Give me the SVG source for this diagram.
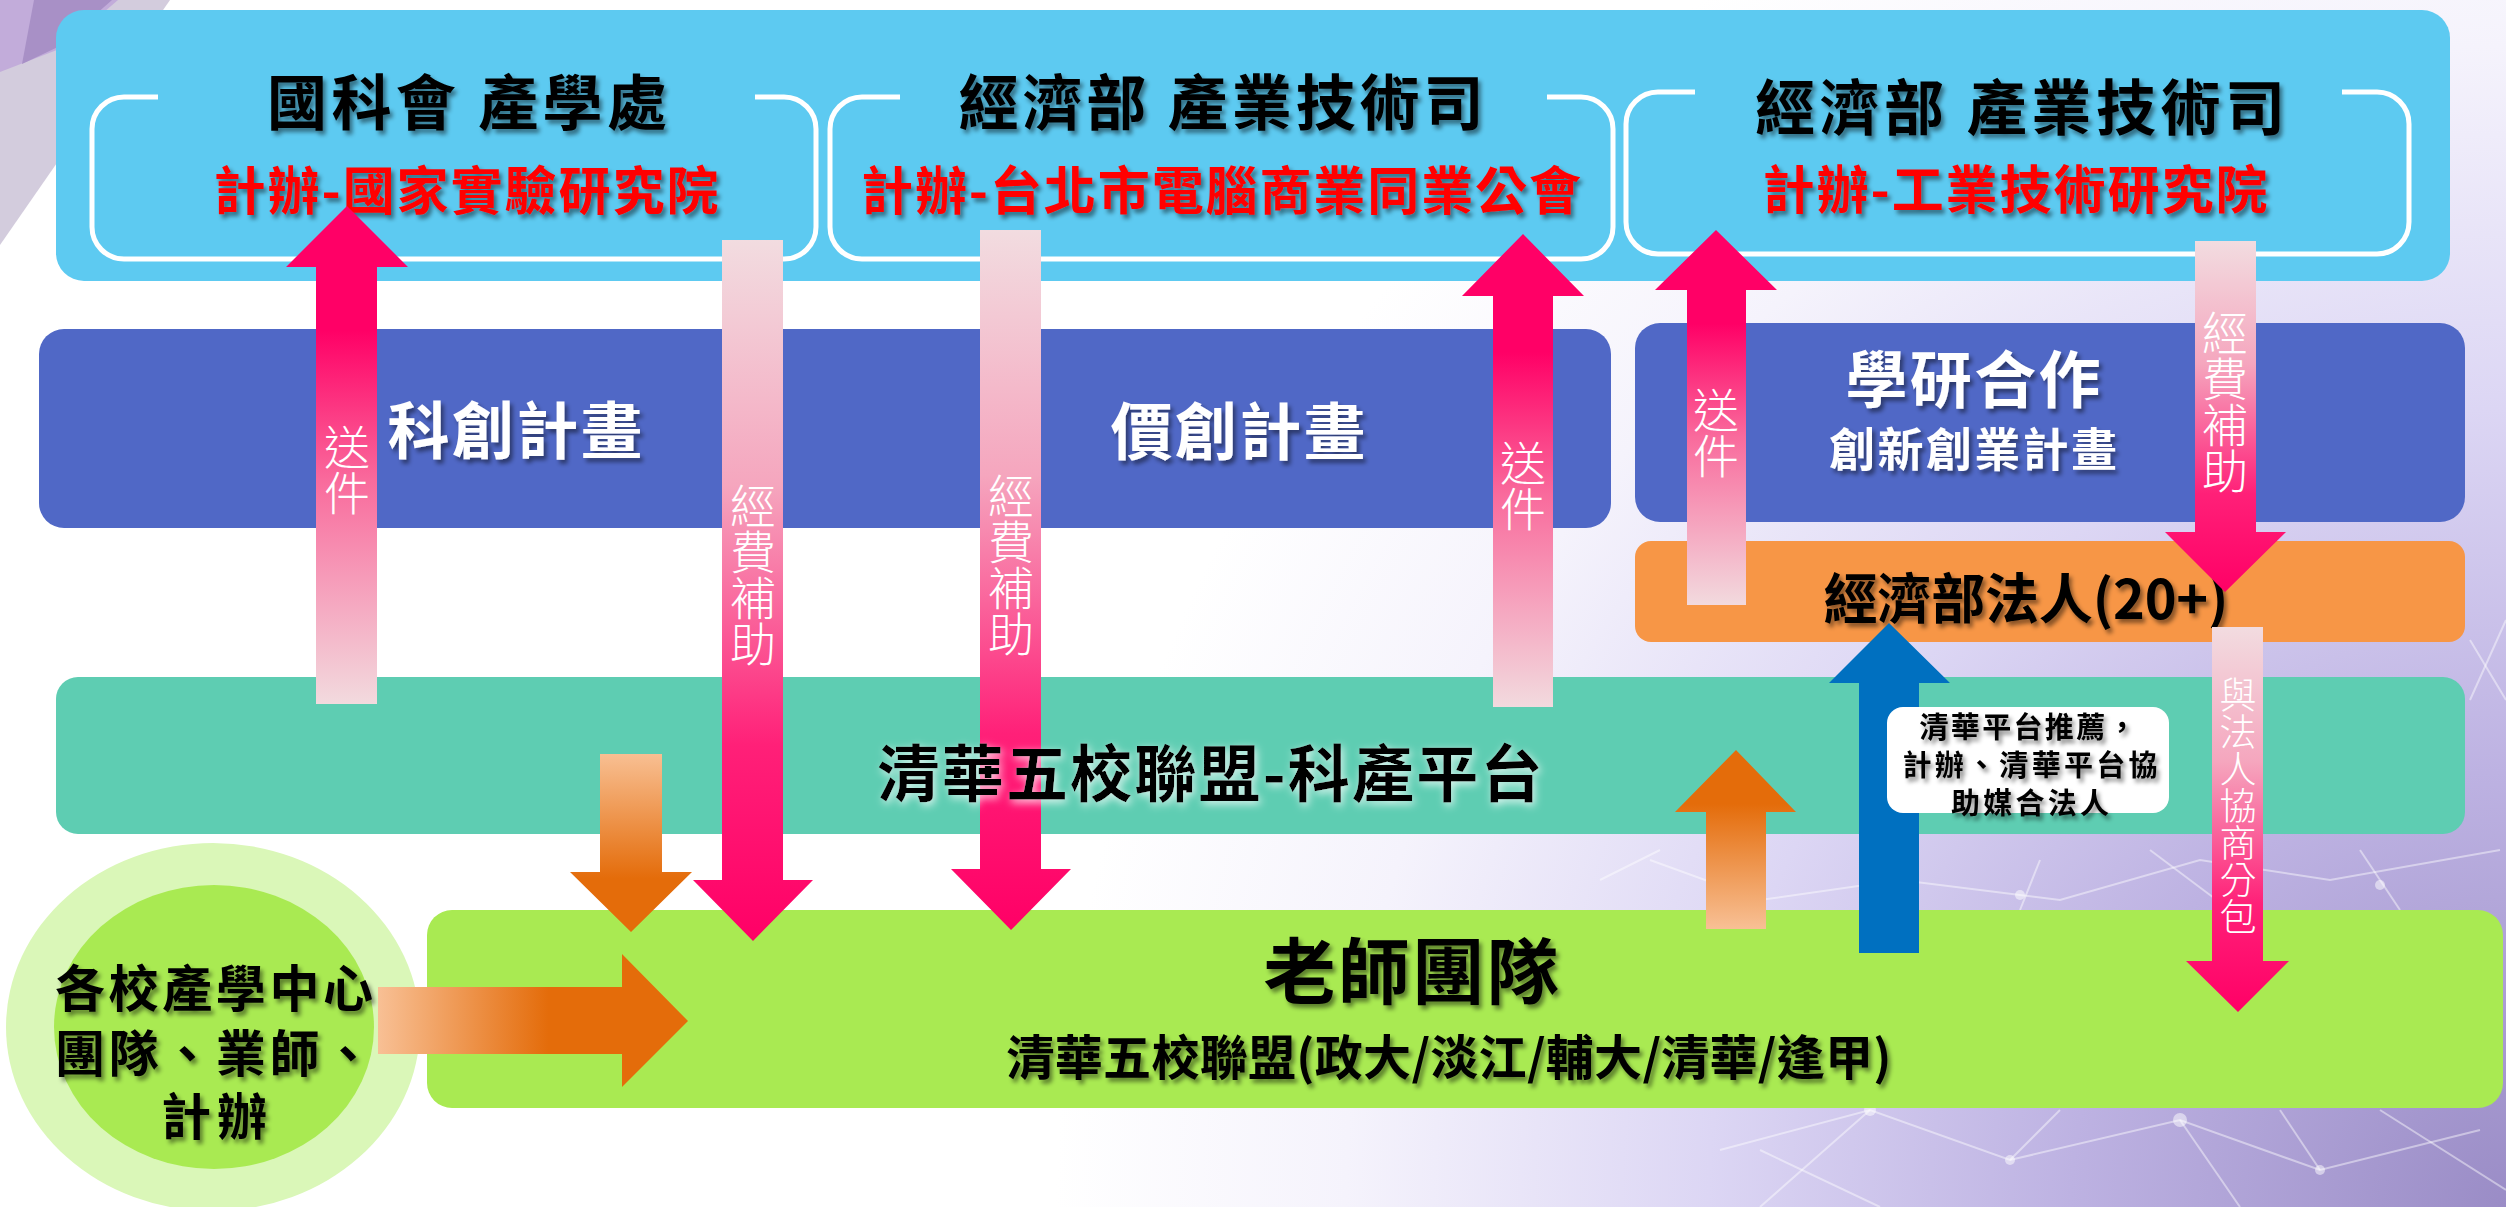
<svg xmlns="http://www.w3.org/2000/svg" width="2506" height="1207" viewBox="0 0 2506 1207">
<defs>
<style>
.t{font-family:"Noto Sans CJK TC","Noto Sans CJK SC",sans-serif;font-weight:700;text-anchor:middle;dominant-baseline:central}
.blk{fill:#000}
.red{fill:#FF0000}
.wht{fill:#FFFFFF}
.v{font-family:"Noto Sans CJK TC","Noto Sans CJK SC",sans-serif;font-weight:300;fill:#FFFFFF;text-anchor:middle;writing-mode:vertical-rl}
.brk{fill:none;stroke:#FFFFFF;stroke-width:5}
.net{stroke:#FFFFFF;stroke-opacity:0.45;stroke-width:2;fill:none}
.dot{fill:#FFFFFF;fill-opacity:0.5}
</style>
<radialGradient id="bg" gradientUnits="userSpaceOnUse" cx="2506" cy="1207" r="1450">
<stop offset="0" stop-color="#9A8CC6"/>
<stop offset="0.3" stop-color="#BDB2E2"/>
<stop offset="0.55" stop-color="#DCD6F4"/>
<stop offset="0.8" stop-color="#F5F3FC"/>
<stop offset="1" stop-color="#FFFFFF"/>
</radialGradient>
<linearGradient id="pinkDown" x1="0" y1="0" x2="0" y2="1">
<stop offset="0" stop-color="#F2DCE0"/>
<stop offset="0.35" stop-color="#F5A6BE"/>
<stop offset="0.72" stop-color="#FF2078"/>
<stop offset="1" stop-color="#FF0066"/>
</linearGradient>
<linearGradient id="pinkUp" x1="0" y1="0" x2="0" y2="1">
<stop offset="0" stop-color="#FF0066"/>
<stop offset="0.25" stop-color="#FF0066"/>
<stop offset="0.55" stop-color="#F96A9C"/>
<stop offset="1" stop-color="#F2DADE"/>
</linearGradient>
<linearGradient id="orDown" x1="0" y1="0" x2="0" y2="1">
<stop offset="0" stop-color="#F8BF92"/>
<stop offset="0.7" stop-color="#E46C0A"/>
<stop offset="1" stop-color="#E46C0A"/>
</linearGradient>
<linearGradient id="orUp" x1="0" y1="0" x2="0" y2="1">
<stop offset="0" stop-color="#E46C0A"/>
<stop offset="0.3" stop-color="#E46C0A"/>
<stop offset="1" stop-color="#F8C095"/>
</linearGradient>
<linearGradient id="orRight" x1="0" y1="0" x2="1" y2="0">
<stop offset="0" stop-color="#F8C095"/>
<stop offset="0.55" stop-color="#E46C0A"/>
<stop offset="1" stop-color="#E46C0A"/>
</linearGradient>
<filter id="sh" x="-10%" y="-30%" width="120%" height="160%">
<feDropShadow dx="3" dy="4" stdDeviation="2" flood-color="#000" flood-opacity="0.45"/>
</filter>
<filter id="glow" x="-10%" y="-30%" width="120%" height="160%">
<feDropShadow dx="2" dy="3" stdDeviation="4" flood-color="#FFFFFF" flood-opacity="0.8"/>
</filter>
</defs>

<g id="background">
<rect x="0" y="0" width="2506" height="1207" fill="url(#bg)"/>
<polygon points="0,0 170,0 0,245" fill="#D3CCDD"/>
<polygon points="0,0 118,0 62,48 0,72" fill="#C2ACDA"/>
<polygon points="34,0 112,0 60,46 22,64" fill="#A890C6"/>
<g class="net">
<polyline points="1650,860 1760,900 1900,880 2060,900 2200,860 2330,880 2500,850"/>
<polyline points="1720,1150 1870,1110 2010,1160 2180,1120 2320,1170 2480,1130"/>
<line x1="1760" y1="1150" x2="1880" y2="1207"/>
<line x1="1870" y1="1110" x2="1760" y2="1207"/>
<line x1="2010" y1="1160" x2="2060" y2="1110"/>
<line x1="2180" y1="1120" x2="2240" y2="1207"/>
<line x1="2320" y1="1170" x2="2280" y2="1110"/>
<line x1="2380" y1="1110" x2="2506" y2="1190"/>
<line x1="2040" y1="860" x2="2020" y2="910"/>
<line x1="2150" y1="850" x2="2230" y2="910"/>
<line x1="2360" y1="850" x2="2400" y2="910"/>
<line x1="1600" y1="880" x2="1660" y2="850"/>
<line x1="2470" y1="640" x2="2506" y2="700"/>
<line x1="2470" y1="700" x2="2506" y2="620"/>
</g>
<circle class="dot" cx="2020" cy="895" r="5"/>
<circle class="dot" cx="2250" cy="875" r="6"/>
<circle class="dot" cx="2380" cy="885" r="5"/>
<circle class="dot" cx="1870" cy="1110" r="6"/>
<circle class="dot" cx="2180" cy="1120" r="7"/>
<circle class="dot" cx="2320" cy="1170" r="5"/>
<circle class="dot" cx="2010" cy="1160" r="5"/>
</g>

<g id="top-panel">
<rect x="56" y="10" width="2394" height="271" rx="28" fill="#5DCAF1"/>
</g>

<g id="node-nstc">
<path class="brk" d="M158 97 H124 A32 32 0 0 0 92 129 V227 A32 32 0 0 0 124 259 H784 A32 32 0 0 0 816 227 V129 A32 32 0 0 0 784 97 H755"/>
<text class="t blk" x="467" y="98" font-size="60" textLength="400" filter="url(#sh)">國科會 產學處</text>
<text class="t red" x="466" y="187" font-size="52" textLength="505" filter="url(#sh)">計辦-國家實驗研究院</text>
</g>

<g id="node-moea-tca">
<path class="brk" d="M900 97 H862 A32 32 0 0 0 830 129 V227 A32 32 0 0 0 862 259 H1581 A32 32 0 0 0 1613 227 V129 A32 32 0 0 0 1581 97 H1547"/>
<text class="t blk" x="1221" y="98" font-size="60" textLength="525" filter="url(#sh)">經濟部 產業技術司</text>
<text class="t red" x="1221" y="187" font-size="52" textLength="720" filter="url(#sh)">計辦-台北市電腦商業同業公會</text>
</g>

<g id="node-moea-itri">
<path class="brk" d="M1695 92 H1658 A32 32 0 0 0 1626 124 V222 A32 32 0 0 0 1658 254 H2377 A32 32 0 0 0 2409 222 V124 A32 32 0 0 0 2377 92 H2342"/>
<text class="t blk" x="2020" y="103" font-size="60" textLength="530" filter="url(#sh)">經濟部 產業技術司</text>
<text class="t red" x="2015" y="186" font-size="52" textLength="505" filter="url(#sh)">計辦-工業技術研究院</text>
</g>

<g id="node-plans">
<rect x="39" y="329" width="1572" height="199" rx="25" fill="#5068C6"/>
<text class="t wht" x="515" y="427" font-size="62" textLength="255" filter="url(#sh)">科創計畫</text>
<text class="t wht" x="1238" y="428" font-size="62" textLength="255" filter="url(#sh)">價創計畫</text>
</g>

<g id="node-academia">
<rect x="1635" y="323" width="830" height="199" rx="25" fill="#5068C6"/>
<text class="t wht" x="1973" y="376" font-size="62" textLength="255" filter="url(#sh)">學研合作</text>
<text class="t wht" x="1973" y="446" font-size="46" textLength="288" filter="url(#sh)">創新創業計畫</text>
</g>

<g id="node-legal">
<rect x="1635" y="541" width="830" height="101" rx="16" fill="#F79646"/>
<text class="t blk" x="2026" y="595" font-size="54" textLength="405" filter="url(#sh)">經濟部法人(20+)</text>
</g>

<g id="node-platform">
<rect x="56" y="677" width="2409" height="157" rx="22" fill="#5ECDB2"/>
</g>

<g id="node-teachers">
<rect x="427" y="910" width="2076" height="198" rx="25" fill="#A9EA52"/>
<text class="t blk" x="1411" y="966" font-size="72" textLength="295" filter="url(#sh)">老師團隊</text>
<text class="t blk" x="1449" y="1054" font-size="48" textLength="885" filter="url(#sh)">清華五校聯盟(政大/淡江/輔大/清華/逢甲)</text>
</g>

<g id="node-centers">
<ellipse cx="213" cy="1027" rx="207" ry="184" fill="#DAF7B8"/>
<ellipse cx="214" cy="1027" rx="160" ry="142" fill="#A9EA52"/>
<text class="t blk" x="214" y="985" font-size="50" textLength="318" filter="url(#sh)">各校產學中心</text>
<text class="t blk" x="214" y="1050" font-size="50" textLength="318" filter="url(#sh)">團隊、業師、</text>
<text class="t blk" x="214" y="1113" font-size="50" textLength="106" filter="url(#sh)">計辦</text>
</g>

<g id="connectors">
<path fill="url(#pinkUp)" d="M347 206 L408 267 H377 V704 H316 V267 H286 Z"/>
<text class="v" x="347" y="470" font-size="46">送件</text>
<path fill="url(#pinkDown)" d="M722 240 H783 V880 H813 L753 941 L693 880 H722 Z"/>
<text class="v" x="753" y="575" font-size="46">經費補助</text>
<path fill="url(#pinkDown)" d="M980 230 H1041 V869 H1071 L1011 930 L951 869 H980 Z"/>
<text class="v" x="1011" y="565" font-size="46">經費補助</text>
<path fill="url(#pinkUp)" d="M1523 234 L1584 296 H1553 V707 H1493 V296 H1462 Z"/>
<text class="v" x="1523" y="486" font-size="46">送件</text>
<path fill="url(#pinkUp)" d="M1716 230 L1777 290 H1746 V605 H1687 V290 H1655 Z"/>
<text class="v" x="1716" y="433" font-size="46">送件</text>
<path fill="url(#pinkDown)" d="M2195 241 H2256 V532 H2286 L2225 592 L2165 532 H2195 Z"/>
<text class="v" x="2225" y="402" font-size="46">經費補助</text>
<path fill="url(#pinkDown)" d="M2212 627 H2263 V961 H2289 L2238 1012 L2186 961 H2212 Z"/>
<text class="v" x="2238" y="806" font-size="37">與法人協商分包</text>
<path fill="url(#orDown)" d="M600 754 H662 V872 H692 L631 932 L570 872 H600 Z"/>
<path fill="url(#orRight)" d="M378 987 H622 V954 L688 1021 L622 1087 V1054 H378 Z"/>
<path fill="url(#orUp)" d="M1736 750 L1796 812 H1766 V929 H1706 V812 H1675 Z"/>
<path fill="#0070C0" d="M1889 623 L1950 683 H1919 V953 H1859 V683 H1829 Z"/>
<rect x="1887" y="707" width="282" height="106" rx="16" fill="#FFFFFF"/>
<text class="t blk" x="2028" y="725" font-size="29" textLength="217" filter="url(#sh)">清華平台推薦，</text>
<text class="t blk" x="2030" y="763" font-size="29" textLength="255" filter="url(#sh)">計辦、清華平台協</text>
<text class="t blk" x="2030" y="801" font-size="29" textLength="158" filter="url(#sh)">助媒合法人</text>
</g>

<g id="platform-label">
<text class="t blk" x="1210" y="770" font-size="62" textLength="665" filter="url(#glow)">清華五校聯盟-科產平台</text>
</g>
</svg>
